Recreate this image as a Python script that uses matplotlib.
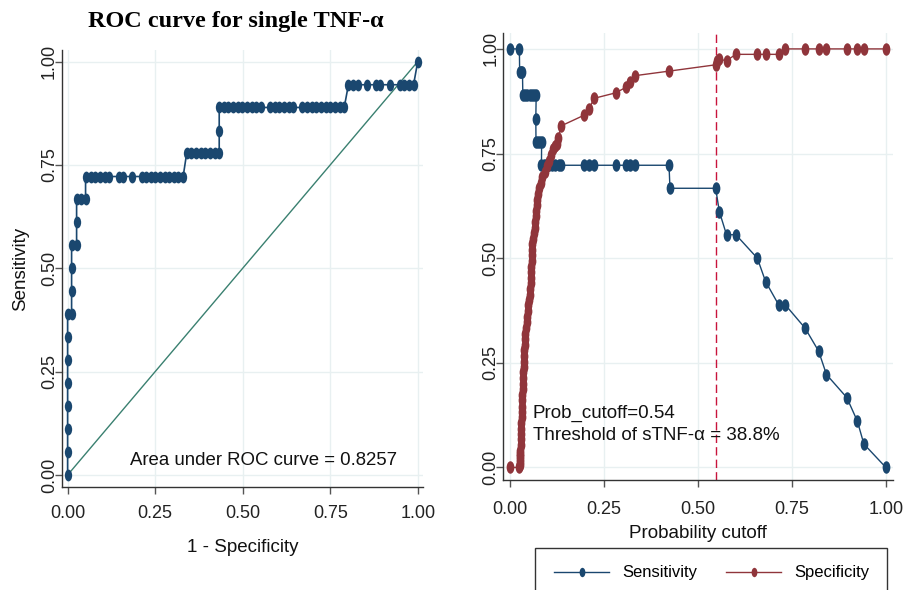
import numpy as np
import matplotlib
matplotlib.use("Agg")
import matplotlib.pyplot as plt
from matplotlib.path import Path
from matplotlib.transforms import Affine2D
from matplotlib.patches import Rectangle

# ---------------- data ----------------
roc_fpr = [0, 0, 0, 0, 0, 0, 0, 0,
           0.0114, 0.0114, 0.0114, 0.0114, 0.0257, 0.0257, 0.0257, 0.038, 0.0513, 0.0513,
           0.0656, 0.079, 0.0923, 0.1056, 0.118, 0.1456, 0.159, 0.1828, 0.2113, 0.2237,
           0.237, 0.25, 0.263, 0.277, 0.29, 0.303, 0.316, 0.330,
           0.340, 0.353, 0.366, 0.380, 0.393, 0.406, 0.420, 0.433,
           0.433, 0.433, 0.446, 0.459, 0.472, 0.486, 0.499, 0.512, 0.526, 0.539, 0.552,
           0.578, 0.591, 0.605, 0.618, 0.631, 0.645,
           0.670, 0.684, 0.697, 0.710, 0.724, 0.737, 0.750, 0.764, 0.777, 0.790,
           0.802, 0.815, 0.829, 0.855, 0.882, 0.892, 0.920, 0.948, 0.961, 0.974, 0.988,
           1.0]
roc_sens = [0.0, 0.056, 0.111, 0.167, 0.222, 0.278, 0.333, 0.389,
            0.389, 0.444, 0.5, 0.556, 0.556, 0.611, 0.667, 0.667, 0.667, 0.722,
            0.722, 0.722, 0.722, 0.722, 0.722, 0.722, 0.722, 0.722, 0.722, 0.722,
            0.722, 0.722, 0.722, 0.722, 0.722, 0.722, 0.722, 0.722,
            0.778, 0.778, 0.778, 0.778, 0.778, 0.778, 0.778, 0.778,
            0.833, 0.889, 0.889, 0.889, 0.889, 0.889, 0.889, 0.889, 0.889, 0.889, 0.889,
            0.889, 0.889, 0.889, 0.889, 0.889, 0.889,
            0.889, 0.889, 0.889, 0.889, 0.889, 0.889, 0.889, 0.889, 0.889, 0.889,
            0.944, 0.944, 0.944, 0.944, 0.944, 0.944, 0.944, 0.944, 0.944, 0.944, 0.944,
            1.0]
auc_text = "Area under ROC curve = 0.8257"

sens_cut = [0.0, 0.0248, 0.0255, 0.029, 0.033,
            0.034, 0.040, 0.046, 0.052, 0.058, 0.064, 0.0695,
            0.0685,
            0.069, 0.074, 0.079, 0.084,
            0.0835, 0.090, 0.096, 0.104, 0.112, 0.120, 0.129, 0.136,
            0.198, 0.210, 0.224, 0.281, 0.308, 0.320, 0.332, 0.423,
            0.4255, 0.547, 0.557, 0.576, 0.601, 0.658, 0.680, 0.7145, 0.732,
            0.785, 0.821, 0.842, 0.896, 0.924, 0.9415, 1.0]
sens_val = [1.0, 1.0, 0.944, 0.944, 0.944,
            0.889, 0.889, 0.889, 0.889, 0.889, 0.889, 0.889,
            0.833,
            0.778, 0.778, 0.778, 0.778,
            0.722, 0.722, 0.722, 0.722, 0.722, 0.722, 0.722, 0.722,
            0.722, 0.722, 0.722, 0.722, 0.722, 0.722, 0.722, 0.722,
            0.667, 0.667, 0.611, 0.556, 0.556, 0.5, 0.444, 0.389, 0.389,
            0.333, 0.278, 0.222, 0.167, 0.111, 0.056, 0.0]

spec_cut = [0.0, 0.0248,
            0.0255, 0.0258, 0.0262, 0.0266, 0.027, 0.0275, 0.028, 0.0284, 0.029, 0.0295,
            0.030, 0.0305, 0.031, 0.0315, 0.032, 0.0328, 0.0335, 0.034, 0.0345, 0.035,
            0.036, 0.0368, 0.0375, 0.038, 0.039, 0.040, 0.041, 0.0425, 0.044, 0.0455,
            0.047, 0.0487, 0.050, 0.052, 0.0535, 0.055, 0.0557, 0.0563, 0.057, 0.0575,
            0.058, 0.0585, 0.0595, 0.061, 0.0635, 0.0655, 0.067, 0.068, 0.0695, 0.071,
            0.073, 0.0755, 0.078, 0.081, 0.086, 0.092, 0.0985, 0.1045, 0.109, 0.1135,
            0.1197, 0.124, 0.1285, 0.1357,
            0.198, 0.210, 0.224, 0.281, 0.308, 0.320, 0.332, 0.4238, 0.547, 0.551,
            0.557, 0.576, 0.601, 0.658, 0.680, 0.7145, 0.732, 0.785, 0.821, 0.842,
            0.896, 0.924, 0.9415, 1.0]
spec_val = [0.0, 0.0,
            0.006, 0.013, 0.02, 0.027, 0.033, 0.040, 0.053, 0.067, 0.08, 0.093,
            0.107, 0.12, 0.133, 0.145, 0.16, 0.173, 0.187, 0.2, 0.213, 0.227,
            0.24, 0.253, 0.267, 0.28, 0.293, 0.307, 0.32, 0.333, 0.347, 0.36,
            0.373, 0.387, 0.4, 0.413, 0.427, 0.44, 0.453, 0.467, 0.48, 0.493,
            0.507, 0.52, 0.533, 0.547, 0.56, 0.573, 0.587, 0.6, 0.613, 0.627,
            0.64, 0.653, 0.667, 0.68, 0.693, 0.707, 0.72, 0.733, 0.747, 0.76,
            0.767, 0.773, 0.787, 0.816,
            0.842, 0.857, 0.882, 0.895, 0.908, 0.92, 0.936, 0.947, 0.962, 0.97,
            0.975, 0.972, 0.987, 0.987, 0.987, 0.987, 1.0, 1.0, 1.0, 1.0,
            1.0, 1.0, 1.0, 1.0]
cutoff = 0.547
note_lines = ["Prob_cutoff=0.54", "Threshold of sTNF-\u03b1 = 38.8%"]

ticks = [0, 0.25, 0.5, 0.75, 1.0]
tick_labels = ["0.00", "0.25", "0.50", "0.75", "1.00"]

# ---------------- style ----------------
plt.rcParams['font.family'] = ['Liberation Sans', 'DejaVu Sans']
NAVY = "#1a476f"
MAROON = "#90353b"
DIAG = "#3a8070"
GRID = "#e8f0f1"
DASH = "#c8143c"
TXT = "#111111"

ell = Path.unit_circle().transformed(Affine2D().scale(0.62, 1.0))

fig = plt.figure(figsize=(9.12, 5.9), dpi=100)
fig.patch.set_facecolor("white")

def style_axes(ax, xlim, ylim, xpad):
    ax.set_xlim(*xlim)
    ax.set_ylim(*ylim)
    ax.set_xticks(ticks)
    ax.set_xticklabels(tick_labels)
    ax.set_yticks(ticks)
    ax.set_yticklabels(tick_labels)
    for s in ["top", "right"]:
        ax.spines[s].set_visible(False)
    for s in ["left", "bottom"]:
        ax.spines[s].set_color("#333333")
        ax.spines[s].set_linewidth(1.0)
    ax.grid(True, color=GRID, lw=1.0)
    ax.set_axisbelow(True)
    ax.tick_params(axis="both", direction="out", length=5, width=1, color="#555555",
                   labelsize=13, labelcolor="#222222")
    ax.tick_params(axis="x", pad=xpad)
    ax.tick_params(axis="y", pad=-2)
    for lab in ax.get_yticklabels():
        lab.set_rotation(90)
        lab.set_va("center")
        lab.set_ha("right")

# ---------------- left: ROC ----------------
ax1 = fig.add_axes([62/912, 1-487/590, 361/912, 437/590])
style_axes(ax1, (-0.016, 1.015), (-0.029, 1.028), 8)
ax1.plot([0, 1], [0, 1], color=DIAG, lw=1.0, zorder=2)
ax1.plot(roc_fpr, roc_sens, color=NAVY, lw=1.2, marker=ell, markersize=8.5,
         markeredgewidth=0, zorder=3)
ax1.text(0.56, 0.036, auc_text, ha="center", va="center", fontsize=13.4, color=TXT)
ax1.set_xlabel("1 - Specificity", fontsize=13.5, labelpad=12, color=TXT)
ax1.set_ylabel("Sensitivity", fontsize=13.5, color=TXT)
ax1.yaxis.set_label_coords(-0.091, 0.5)
fig.text(236/912, 1-22/590, "ROC curve for single TNF-\u03b1", ha="center", va="center",
         fontsize=17.5, fontweight="bold", family=["Liberation Serif", "DejaVu Serif"])

# ---------------- right: sensitivity/specificity ----------------
ax2 = fig.add_axes([503.3/912, 1-480/590, 389.7/912, 447/590])
style_axes(ax2, (-0.018, 1.019), (-0.030, 1.038), 10)
l1, = ax2.plot(sens_cut, sens_val, color=NAVY, lw=1.0, marker=ell, markersize=9,
               markeredgewidth=0, zorder=3, label="Sensitivity")
l2, = ax2.plot(spec_cut, spec_val, color=MAROON, lw=1.0, marker=ell, markersize=9,
               markeredgewidth=0, zorder=3, label="Specificity")
ax2.axvline(cutoff, color=DASH, lw=1.0, ls=(0, (6, 3)), zorder=2)
ax2.text(0.061, 0.13, note_lines[0], ha="left", va="center", fontsize=13.5, color=TXT)
ax2.text(0.061, 0.077, note_lines[1], ha="left", va="center", fontsize=13.5, color=TXT)
ax2.set_xlabel("Probability cutoff", fontsize=13.5, labelpad=5, color=TXT)

# legend box (runs off the bottom of the figure)
fig.patches.append(Rectangle((535/912, -0.05), (887-535)/912, 0.05 + 1-548/590,
                             transform=fig.transFigure, fill=False, ec="#333333", lw=1.0))
fig.legend(handles=[l1, l2], loc="center", bbox_to_anchor=(712/912, 1-573/590),
           ncol=2, frameon=False, fontsize=12, handlelength=3.3, handletextpad=0.8,
           columnspacing=1.7, numpoints=1, markerscale=0.75)

fig.savefig("out.png", dpi=100, facecolor="white")
